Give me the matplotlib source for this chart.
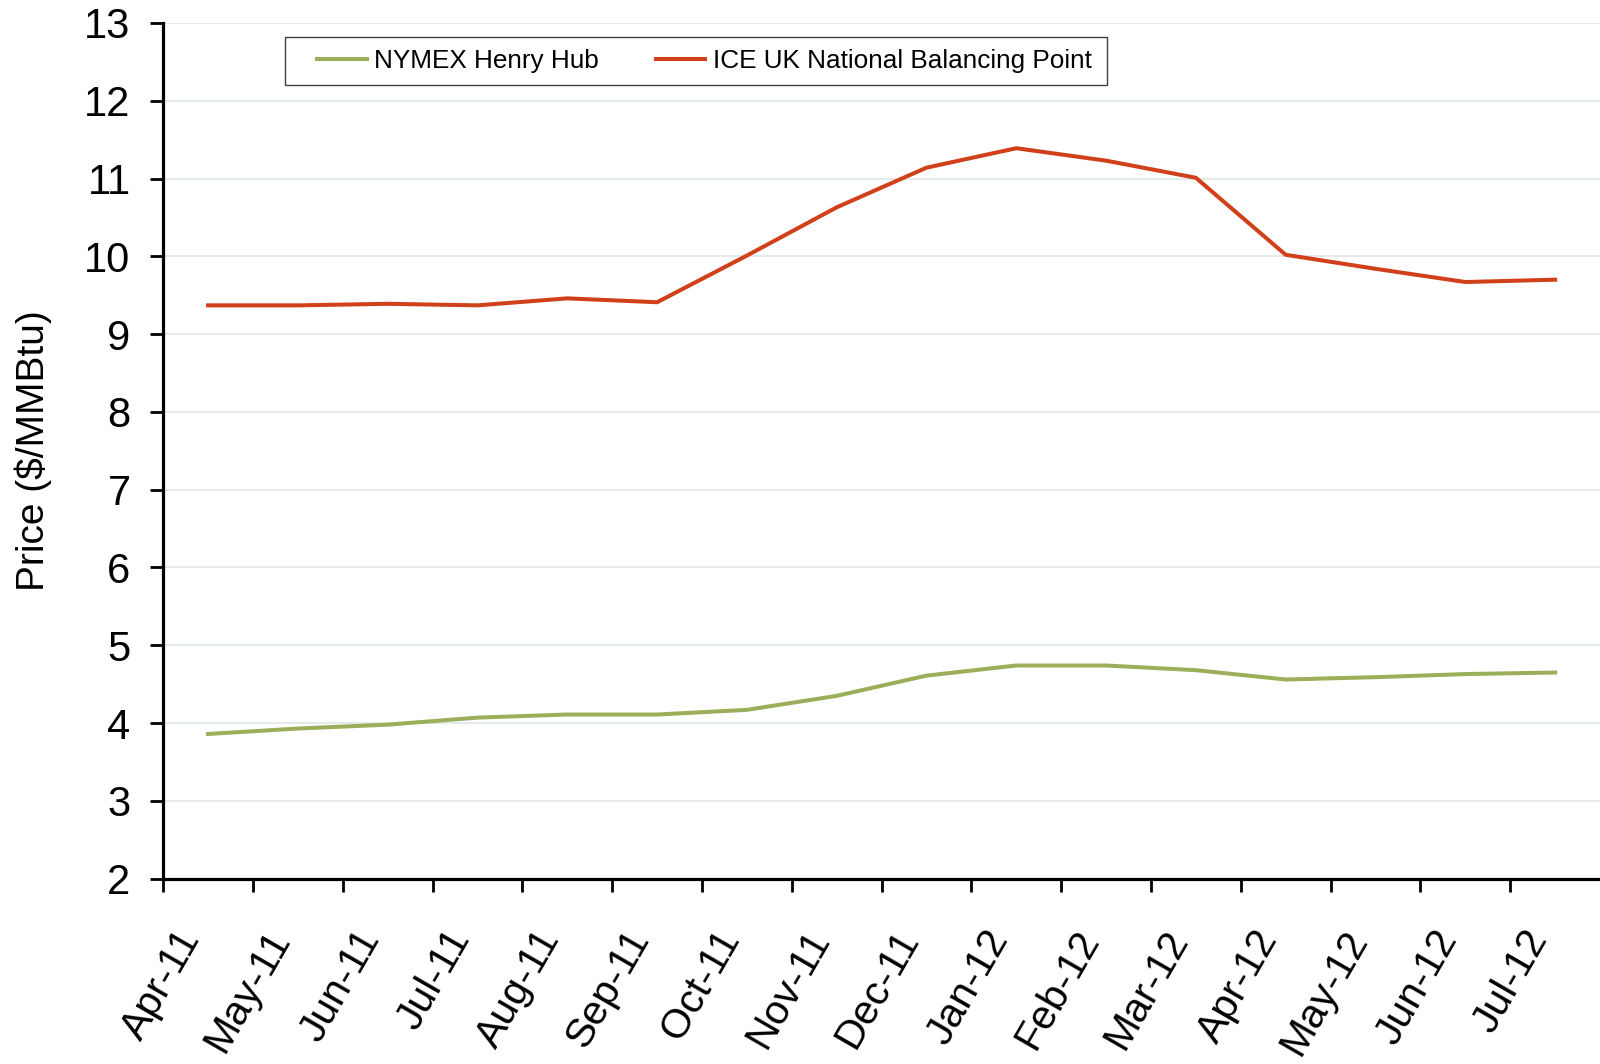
import matplotlib
matplotlib.use("Agg")
import matplotlib.pyplot as plt
from matplotlib.patches import Rectangle
import numpy as np

plt.rcParams['font.family'] = ['Liberation Sans', 'DejaVu Sans']

months = ["Apr-11", "May-11", "Jun-11", "Jul-11", "Aug-11", "Sep-11", "Oct-11", "Nov-11",
          "Dec-11", "Jan-12", "Feb-12", "Mar-12", "Apr-12", "May-12", "Jun-12", "Jul-12"]
henry_hub = [3.86, 3.93, 3.98, 4.07, 4.11, 4.11, 4.17, 4.35,
             4.61, 4.74, 4.74, 4.68, 4.56, 4.59, 4.63, 4.65]
nbp = [9.37, 9.37, 9.39, 9.37, 9.46, 9.41, 10.01, 10.63,
       11.14, 11.39, 11.23, 11.01, 10.02, 9.84, 9.67, 9.70]
y_ticks = list(range(2, 14))

GREEN = "#9BAF5A"
RED = "#D0401A"

W, H = 1600, 1064
fig = plt.figure(figsize=(16, 10.64), dpi=100)
ax = fig.add_axes([0.102, 0.1742, 0.898, 0.8042])

x = np.arange(len(months))
ax.plot(x, henry_hub, color=GREEN, lw=2.9, label="NYMEX Henry Hub")
ax.plot(x, nbp, color=RED, lw=2.9, label="ICE UK National Balancing Point")

ax.set_xlim(-0.5, len(months) - 0.5)
ax.set_ylim(2, 13)
ax.set_yticks(y_ticks)
ax.yaxis.grid(True, color="#DAE4E4", lw=1.1)
ax.set_axisbelow(True)

# major ticks at category boundaries, labels at centres
ax.set_xticks(np.arange(-0.5, len(months) - 1, 1.0))
ax.set_xticklabels([])
ax.set_xticks(x, minor=True)
ax.set_xticklabels(months, minor=True, rotation=60, ha='right', va='top', fontsize=29.5)
ax.tick_params(axis='x', which='major', direction='out', length=9.5, width=2.0, color='black')
ax.tick_params(axis='x', which='minor', length=0, pad=32)
ax.tick_params(axis='y', direction='out', length=9.5, width=2.0, labelsize=30, pad=14)

for s in ['top', 'right']:
    ax.spines[s].set_visible(False)
for s in ['left', 'bottom']:
    ax.spines[s].set_linewidth(2.3)
    ax.spines[s].set_color('black')

ax.set_ylabel("Price ($/MMBtu)", fontsize=28, ha='center', va='center')
ax.yaxis.set_label_coords(-0.0905, 0.5)

# legend frame drawn in figure pixels, below the legend entries
frame = Rectangle((285 / W, 1 - 85 / H), (1107 - 285) / W, 48 / H,
                  transform=fig.transFigure, facecolor='white',
                  edgecolor='#404040', lw=1.0, zorder=4.5, clip_on=False)
ax.add_patch(frame)
leg = ax.legend(loc='center left', bbox_to_anchor=(317 / W, 1 - 61 / H),
                bbox_transform=fig.transFigure, ncol=2, fontsize=18.8,
                frameon=False, borderaxespad=0, borderpad=0, handlelength=1.9,
                handletextpad=0.27, columnspacing=2.2)
leg.set_zorder(6)
for h in leg.get_lines():
    h.set_linewidth(2.9)

fig.savefig("out.png", dpi=100)
